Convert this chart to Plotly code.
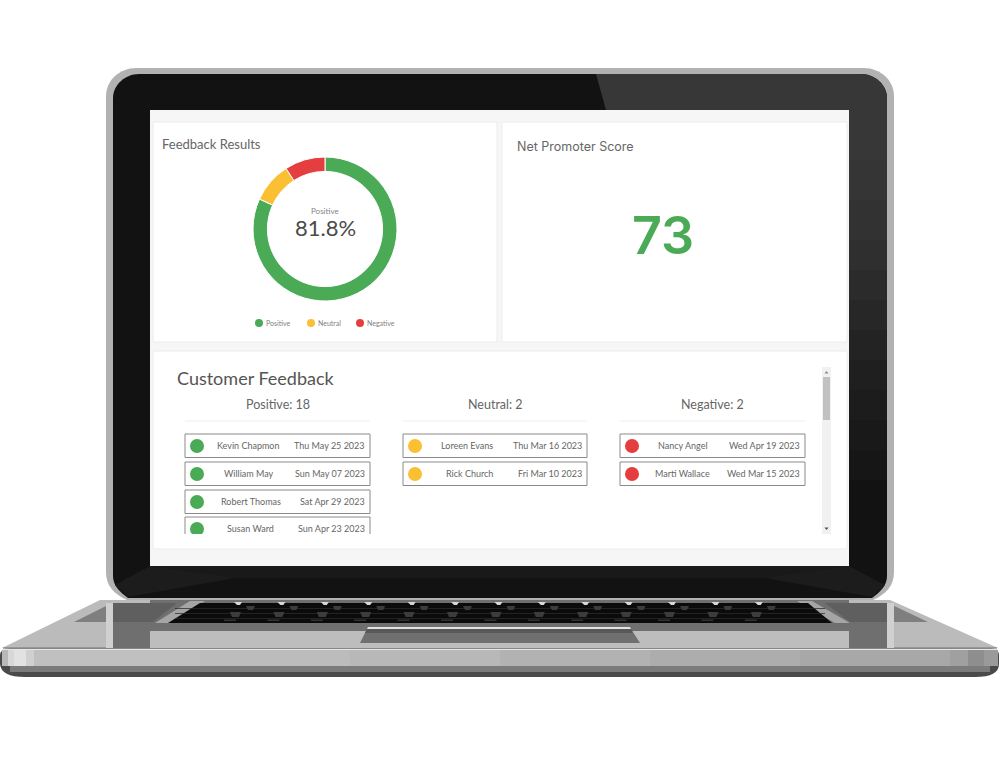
import plotly.graph_objects as go

# chart values
categories = ["Positive", "Neutral", "Negative"]
counts = [18, 2, 2]
colors = ["#4BAA55", "#FBBF33", "#E53E3E"]
nps_score = "73"
positive_names = ["Kevin Chapmon", "William May", "Robert Thomas", "Susan Ward"]
positive_dates = ["Thu May 25 2023", "Sun May 07 2023", "Sat Apr 29 2023", "Sun Apr 23 2023"]
neutral_names = ["Loreen Evans", "Rick Church"]
neutral_dates = ["Thu Mar 16 2023", "Fri Mar 10 2023"]
negative_names = ["Nancy Angel", "Marti Wallace"]
negative_dates = ["Wed Apr 19 2023", "Wed Mar 15 2023"]

# layout in page pixels
W, H = 1000, 761
BODY_FONT = "Lato"
TITLE_FONT = "Inter"
column_x = [(185, 370), (403, 587), (620, 805)]
name_centers = [[248, 249, 251, 250], [467, 469], [683, 682]]
row_tops = [434, 462, 490, 517]
row_height = 23.5
clip_y = 534

shapes = []
annotations = []


def poly(points, fill, layer="below"):
    path = "M" + " L".join(f"{x},{y}" for x, y in points) + " Z"
    shapes.append(dict(type="path", path=path, fillcolor=fill, line_width=0, layer=layer))


def rect(x0, y0, x1, y1, fill, line=None, width=0, layer="below"):
    shapes.append(dict(type="rect", x0=x0, y0=y0, x1=x1, y1=y1, fillcolor=fill,
                       line=dict(color=line or fill, width=width), layer=layer))


def raw(path, fill):
    shapes.append(dict(type="path", path=path, fillcolor=fill, line_width=0, layer="below"))


def text(x, y, s, size, color="#666666", anchor="center", family=BODY_FONT, weight=400):
    annotations.append(dict(x=x, y=y, text=s, showarrow=False, xanchor=anchor, yanchor="middle",
                            font=dict(size=size, color=color, family=family, weight=weight)))


# laptop base, top surface
poly([(2, 648), (100, 600), (890, 600), (998, 648)], "#bbbbbb")

# front edge
raw("M0,656 Q0,648 10,648 L990,648 Q999,648 999,656 L999,664 Q999,677 975,677 "
    "L25,677 Q1,677 0,664 Z", "#4a4a4a")
edge_colors = ["#b8b8b8", "#d8d8d8", "#e2e2e2", "#d0d0d0", "#c0c0c0", "#bcbcbc", "#b8b8b8",
               "#b2b2b2", "#adadad", "#a8a8a8", "#a0a0a0", "#8e8e8e", "#9a9a9a"]
edge_x = [2, 8, 14, 26, 34, 200, 350, 500, 650, 800, 950, 968, 984, 998]
for i, c in enumerate(edge_colors):
    rect(edge_x[i], 650, edge_x[i + 1], 666, c)
rect(10, 666, 990, 672, "#7b7b7b")
rect(3, 648.5, 997, 650, "#e6e6e6")
rect(3, 647.5, 997, 648.5, "#777777")

# speaker grilles
poly([(74, 622), (112, 603), (177, 603), (153, 622)], "#7f7f7f")
poly([(825, 603), (888, 603), (928, 622), (850, 622)], "#7f7f7f")

# screen reflection on the palm rest
rect(106, 603, 113, 648, "#d0d0d0")
rect(113, 603, 150, 648, "#6f6f6f")
rect(887, 603, 894, 648, "#d0d0d0")
rect(849, 603, 887, 648, "#6f6f6f")
poly([(150, 600), (849, 600), (849, 631), (150, 631)], "#6f6f6f")
poly([(113, 603), (177, 603), (153, 622), (113, 622)], "#5f5f5f")
poly([(825, 603), (887, 603), (887, 622), (850, 622)], "#5f5f5f")
raw("M150,634 Q150,631 153,631 L846,631 Q849,631 849,634 L849,648 L150,648 Z", "#bdbdbd")

# keyboard
poly([(190, 601), (205, 601), (172, 623), (155, 623)], "#a5a5a5")
poly([(797, 601), (812, 601), (850, 623), (835, 623)], "#a5a5a5")
poly([(200, 603), (808, 603), (832, 623), (168, 623)], "#0b0b0b")
for y in [608, 613, 618]:
    rect(175, y, 825, y + 0.8, "#2c2c2c")
for i in range(13):
    x = 238 + 43.4 * i
    poly([(x - 4, 602), (x + 4, 602), (x + 2, 605), (x - 1, 605)], "#d8d8d8")
    poly([(x + 8, 606), (x + 17, 606), (x + 15, 610), (x + 10, 610)], "#3c3c3c")
    poly([(x - 8, 612), (x + 3, 612), (x + 1, 617), (x - 6, 617)], "#3c3c3c")
    rect(x - 14, 619.5, x - 2, 621, "#333333")

# trackpad
poly([(368, 627), (630, 627), (631, 629), (367, 629)], "#e2e2e2")
poly([(367, 629), (631, 629), (640, 643), (360, 643)], "#707070")
poly([(367, 629), (631, 629), (633, 633), (365, 633)], "#595959")

# lid
raw("M106,96 C106,80 120,68 136,68 L864,68 C880,68 894,80 894,96 L894,572 "
    "C894,586 886,594 873,600 L127,600 C114,594 106,586 106,572 Z", "#b2b2b2")
raw("M113,98 C113,85 125,74 139,74 L861,74 C875,74 887,85 887,98 L887,576 "
    "C887,586 880,592 872,598 L128,598 C120,592 113,586 113,576 Z", "#121212")

# gloss on the right of the bezel, fades downwards
gloss_colors = ["#373737", "#353535", "#323232", "#2f2f2f", "#2b2b2b", "#272727", "#232323",
                "#1f1f1f", "#1c1c1c", "#191919", "#161616"]
gloss_y = [110, 160, 200, 240, 270, 300, 330, 360, 390, 420, 450, 480]
raw("M596,74 L861,74 C875,74 887,85 887,98 L887,110 L606,110 Z", "#373737")
for i, c in enumerate(gloss_colors):
    rect(849, gloss_y[i], 887, gloss_y[i + 1], c)
poly([(150, 566), (849, 566), (849, 578), (150, 578)], "#191919")
poly([(128, 597), (235, 578), (150, 566), (115, 585)], "#1c1c1c")
poly([(872, 597), (765, 578), (849, 566), (885, 585)], "#1c1c1c")

# screen and cards
rect(150, 110, 849, 566, "#f6f6f6")
rect(153, 122, 497, 342, "#ffffff", line="#ececec", width=1)
rect(502, 122, 847, 342, "#ffffff", line="#ececec", width=1)
rect(153, 351, 847, 549, "#ffffff", line="#ececec", width=1)

# card headings
text(160, 143.5, "Feedback Results", 13, anchor="left")
text(515, 146, "Net Promoter Score", 12.5, family=TITLE_FONT, anchor="left")
text(663, 235, nps_score, 52, color=colors[0], family=TITLE_FONT, weight=600)

share = counts[0] / sum(counts) * 100
text(325, 211, categories[0], 8, color="#858585")
text(325, 227, f"{share:.1f}%", 22, color="#4a4a4a")

# legend below the donut
legend_x = [259, 311, 360]
legend_y = [323, 323, 323]
for lx, name in zip(legend_x, categories):
    text(lx + 5, 322.5, name, 7, color="#808080", anchor="left")

# customer feedback table
text(175, 377.5, "Customer Feedback", 18, color="#555555", anchor="left")
groups = [(positive_names, positive_dates), (neutral_names, neutral_dates), (negative_names, negative_dates)]
dot_x, dot_y, dot_color = [], [], []
for col, (names, dates) in enumerate(groups):
    x0, x1 = column_x[col]
    mid = (x0 + x1) / 2
    text(mid, 404, f"{categories[col]}: {counts[col]}", 12.5)
    shapes.append(dict(type="line", x0=x0, x1=x1, y0=421, y1=421, line=dict(color="#eeeeee", width=1), layer="below"))
    for r, (name, date) in enumerate(zip(names, dates)):
        top = row_tops[r]
        shapes.append(dict(type="rect", x0=x0, x1=x1, y0=top, y1=top + row_height,
                           line=dict(color="#8a8a8a", width=1), fillcolor="rgba(0,0,0,0)", layer="below"))
        dot_x.append(x0 + 12)
        dot_y.append(top + 12)
        dot_color.append(colors[col])
        text(name_centers[col][r], top + 11.3, name, 9)
        text(x1 - 3, top + 11.3, date, 9, anchor="right")

# list is cut off at the bottom of the scroll area
rect(180, clip_y, 375, 548, "#ffffff", layer="above")

# scrollbar
rect(822, 367, 831, 534, "#f1f1f1")
rect(823, 377, 830, 420, "#c1c1c1")
poly([(826.5, 371), (828.5, 373.5), (824.5, 373.5)], "#888888")
poly([(826.5, 530), (828.5, 527.5), (824.5, 527.5)], "#505050")

fig = go.Figure()
fig.add_trace(go.Scatter(x=dot_x, y=dot_y, mode="markers", hoverinfo="skip",
                         marker=dict(size=14, color=dot_color)))
fig.add_trace(go.Scatter(x=legend_x, y=legend_y, mode="markers", hoverinfo="skip",
                         marker=dict(size=8, color=colors)))
fig.add_trace(go.Pie(labels=categories, values=counts, hole=0.8, sort=False, direction="clockwise",
                     rotation=0, textinfo="none", hoverinfo="label+percent",
                     marker=dict(colors=colors, line=dict(color="#ffffff", width=1)),
                     domain=dict(x=[253 / W, 397 / W], y=[1 - 301 / H, 1 - 157 / H])))

fig.update_layout(
    width=W, height=H, margin=dict(l=0, r=0, t=0, b=0), showlegend=False,
    paper_bgcolor="#ffffff", plot_bgcolor="rgba(0,0,0,0)",
    xaxis=dict(range=[0, W], visible=False, fixedrange=True),
    yaxis=dict(range=[H, 0], visible=False, fixedrange=True),
    shapes=shapes, annotations=annotations,
)
fig.write_html("out.html", post_script="document.body.style.margin='0';document.body.style.overflow='hidden';",
               config=dict(displayModeBar=False))
